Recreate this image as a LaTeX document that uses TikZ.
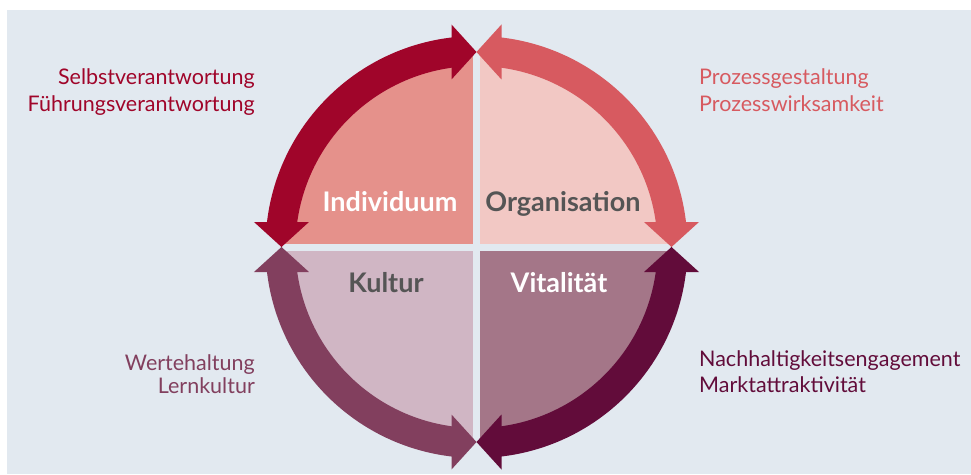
\documentclass[tikz,border=0pt]{standalone}
\usepackage{fontspec}
\setmainfont{Lato}
\definecolor{panel}{HTML}{E2E9F0}
\definecolor{cA}{HTML}{A0052A}
\definecolor{cB}{HTML}{D75A60}
\definecolor{cC}{HTML}{823F5E}
\definecolor{cD}{HTML}{620C3A}
\definecolor{fA}{HTML}{E5918B}
\definecolor{fB}{HTML}{F2C8C4}
\definecolor{fC}{HTML}{D0B6C4}
\definecolor{fD}{HTML}{A47688}
\definecolor{lbl}{HTML}{555555}
\tikzset{
  side/.style={inner sep=0pt, font=\fontsize{21.5}{26}\selectfont},
  quad/.style={inner sep=0pt, anchor=base, font=\fontsize{27}{32}\selectfont\bfseries},
}
\begin{document}
\begin{tikzpicture}[x=1pt,y=1pt]
\useasboundingbox (-476.5,-227) rectangle (494.5,247);
\fill[white] (-476.5,-227) rectangle (494.5,247);
\fill[panel] (-469.5,-227) rectangle (494.5,237);
% sectors
\fill[fA] (0,0) -- (180:192pt) arc[start angle=180,end angle=90,radius=192pt] -- cycle;
\fill[fB] (0,0) -- (90:192pt) arc[start angle=90,end angle=0,radius=192pt] -- cycle;
\fill[fC] (0,0) -- (180:192pt) arc[start angle=180,end angle=270,radius=192pt] -- cycle;
\fill[fD] (0,0) -- (270:192pt) arc[start angle=270,end angle=360,radius=192pt] -- cycle;
% gaps
\draw[panel, line width=7pt] (-200,0) -- (200,0);
\draw[panel, line width=7pt] (0,-200) -- (0,200);
% arrows
\coordinate (T) at (0,195);
\coordinate (L) at (-195,0);
\coordinate (R) at (195,0);
\coordinate (B) at (0,-195);
% top-left
\fill[cA] (95:211pt) arc[start angle=95,end angle=175,radius=211pt] -- (175:181pt) arc[start angle=175,end angle=95,radius=181pt] -- cycle;
\fill[cA] (T) -- ++(-25,27.5) -- ++(0,-55) -- cycle;
\fill[cA] (L) -- ++(-27.5,25) -- ++(55,0) -- cycle;
% top-right
\fill[cB] (5:211pt) arc[start angle=5,end angle=85,radius=211pt] -- (85:181pt) arc[start angle=85,end angle=5,radius=181pt] -- cycle;
\fill[cB] (T) -- ++(25,27.5) -- ++(0,-55) -- cycle;
\fill[cB] (R) -- ++(-27.5,25) -- ++(55,0) -- cycle;
% bottom-left
\fill[cC] (185:211pt) arc[start angle=185,end angle=265,radius=211pt] -- (265:181pt) arc[start angle=265,end angle=185,radius=181pt] -- cycle;
\fill[cC] (L) -- ++(-27.5,-25) -- ++(55,0) -- cycle;
\fill[cC] (B) -- ++(-25,27.5) -- ++(0,-55) -- cycle;
% bottom-right
\fill[cD] (275:211pt) arc[start angle=275,end angle=355,radius=211pt] -- (355:181pt) arc[start angle=355,end angle=275,radius=181pt] -- cycle;
\fill[cD] (B) -- ++(25,27.5) -- ++(0,-55) -- cycle;
\fill[cD] (R) -- ++(-27.5,-25) -- ++(55,0) -- cycle;
% quadrant labels
\node[quad, text=white] (ind) at (-86.5,35.3) {Individuum};
\node[quad, text=lbl] (org) at (86.5,35.3) {Organisation};
\node[quad, text=lbl] (kul) at (-90.5,-45.7) {Kultur};
\node[quad, text=white] (vit) at (82.5,-45.7) {Vitalität};
% side texts
\node[side, text=cA, anchor=base east] (s1) at (-221.5,162) {Selbstverantwortung};
\node[side, text=cA, anchor=base east] (s2) at (-221.5,135.3) {Führungsverantwortung};
\node[side, text=cB, anchor=base west] (p1) at (222.5,162) {Prozessgestaltung};
\node[side, text=cB, anchor=base west] (p2) at (222.5,135.3) {Prozesswirksamkeit};
\node[side, text=cC, anchor=base east] (w1) at (-221.5,-123) {Wertehaltung};
\node[side, text=cC, anchor=base east] (w2) at (-221.5,-146.3) {Lernkultur};
\node[side, text=cD, anchor=base west] (n1) at (222.5,-119.7) {Nachhaltigkeitsengagement};
\node[side, text=cD, anchor=base west] (n2) at (222.5,-145.7) {Marktattraktivität};
\end{tikzpicture}
\end{document}
